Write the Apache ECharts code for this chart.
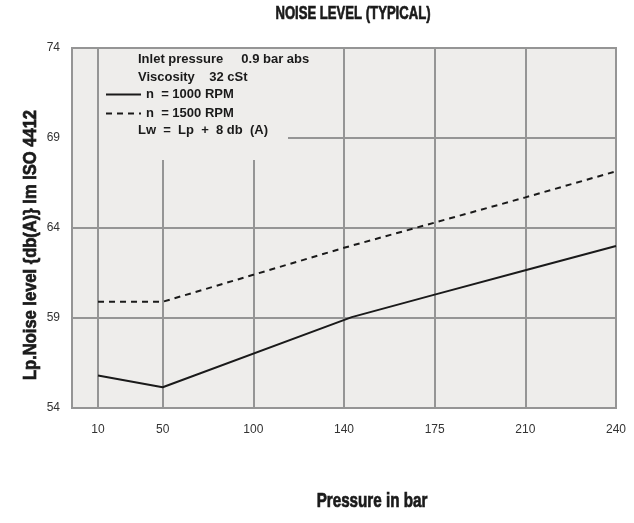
<!DOCTYPE html>
<html>
<head>
<meta charset="utf-8">
<script src="https://cdn.jsdelivr.net/npm/echarts@6/dist/echarts.min.js"></script>
<style>
  html, body { margin: 0; padding: 0; background: #fff; }
  #chart { width: 634px; height: 523px; }
</style>
</head>
<body>
<div id="chart"></div>
<script>
const pressureTicks = [10, 50, 100, 140, 175, 210, 240];
const dbTicks = [54, 59, 64, 69, 74];

const p1000 = [10, 50, 143, 175, 210, 240];
const db1000 = [55.8, 55.15, 59.05, 60.3, 61.65, 63.0];

const p1500 = [10, 50, 100, 140, 175, 210, 240];
const db1500 = [59.9, 59.9, 61.4, 62.9, 64.3, 65.7, 67.15];

const titleText = 'NOISE LEVEL (TYPICAL)';
const xName = 'Pressure in bar';
const yName = 'Lp.Noise level {db(A)} Im ISO 4412';
const noteLines = ['Inlet pressure     0.9 bar abs', 'Viscosity    32 cSt'];
const footNote = 'Lw  =  Lp  +  8 db  (A)';

// the x ticks are not spaced by value: 10 sits close to the left edge,
// every other tick is one slot further on
const tickSlots = [0.287, 1, 2, 3, 4, 5, 6];

function slotOf(p) {
  for (let i = 0; i < pressureTicks.length - 1; i++) {
    const a = pressureTicks[i], b = pressureTicks[i + 1];
    if (p >= a && p <= b) {
      return tickSlots[i] + (p - a) / (b - a) * (tickSlots[i + 1] - tickSlots[i]);
    }
  }
  return tickSlots[tickSlots.length - 1];
}

function pairs(ps, vs) {
  return ps.map((p, i) => [slotOf(p), vs[i]]);
}

const bg = '#eeedeb';
const gridCol = '#959595';
const ink = '#1a1a1a';
const plain = '"Liberation Sans", Arial, sans-serif';
const noteFont = 'bold 13px "Liberation Sans", Arial, sans-serif';
// the original uses a tall condensed face; squeeze a bold sans to get close
const headFont = 'bold 19px "Liberation Sans", Arial, sans-serif';
const heavy = { fill: ink, stroke: ink, lineWidth: 0.7, align: 'center', verticalAlign: 'middle' };

var myChart = echarts.init(document.getElementById('chart'));
const option = {
  animation: false,
  grid: {
    left: 72, right: 18, top: 48, bottom: 115,
    show: true,
    backgroundColor: bg,
    borderColor: gridCol,
    borderWidth: 2
  },
  legend: {
    orient: 'vertical',
    left: 100,
    top: 83,
    itemWidth: 35,
    itemHeight: 14,
    itemGap: 6,
    selectedMode: false,
    itemStyle: { opacity: 0 },
    textStyle: { fontFamily: plain, fontWeight: 'bold', fontSize: 13, color: ink },
    data: ['n  = 1000 RPM', 'n  = 1500 RPM']
  },
  xAxis: {
    type: 'value',
    min: 0,
    max: 6,
    axisLine: { show: false },
    axisTick: { show: false, customValues: tickSlots },
    axisLabel: {
      customValues: tickSlots,
      margin: 16,
      fontFamily: plain,
      fontSize: 12,
      color: '#333',
      formatter: function (v) {
        let best = 0;
        tickSlots.forEach((s, i) => { if (Math.abs(s - v) < Math.abs(tickSlots[best] - v)) best = i; });
        return String(pressureTicks[best]);
      }
    },
    splitLine: { show: true, lineStyle: { color: gridCol, width: 2 } }
  },
  yAxis: {
    type: 'value',
    min: 54,
    max: 74,
    axisLine: { show: false },
    axisTick: { show: false, customValues: dbTicks },
    axisLabel: {
      customValues: dbTicks,
      margin: 12,
      fontFamily: plain,
      fontSize: 12,
      color: '#333',
      padding: [0, 0, 5, 0]
    },
    splitLine: { show: true, lineStyle: { color: gridCol, width: 2 } }
  },
  graphic: [
    // legend box: it hides the grid lines behind the notes
    { type: 'rect', z: 1, shape: { x: 99, y: 49, width: 189, height: 111 }, style: { fill: bg } },
    { type: 'rect', z: 1, shape: { x: 73, y: 135, width: 24, height: 6 }, style: { fill: bg } },
    { type: 'text', z: 5, x: 138, y: 59, style: { text: noteLines[0], font: noteFont, fill: ink, verticalAlign: 'middle' } },
    { type: 'text', z: 5, x: 138, y: 77, style: { text: noteLines[1], font: noteFont, fill: ink, verticalAlign: 'middle' } },
    { type: 'text', z: 5, x: 138, y: 130, style: { text: footNote, font: noteFont, fill: ink, verticalAlign: 'middle' } },
    // title and axis names
    { type: 'text', z: 5, x: 353, y: 14, scaleX: 0.69,
      style: Object.assign({ text: titleText, font: headFont }, heavy) },
    { type: 'text', z: 5, x: 372, y: 501, scaleX: 0.76,
      style: Object.assign({ text: xName, font: 'bold 20px "Liberation Sans", Arial, sans-serif' }, heavy) },
    { type: 'text', z: 5, x: 31, y: 245, rotation: Math.PI / 2, scaleX: 0.87,
      style: Object.assign({ text: yName, font: headFont }, heavy) }
  ],
  series: [
    {
      name: 'n  = 1000 RPM',
      type: 'line',
      symbol: 'none',
      data: pairs(p1000, db1000),
      lineStyle: { color: ink, width: 2 },
      itemStyle: { color: ink }
    },
    {
      name: 'n  = 1500 RPM',
      type: 'line',
      symbol: 'none',
      data: pairs(p1500, db1500),
      lineStyle: { color: ink, width: 2, type: [6, 5] },
      itemStyle: { color: ink }
    }
  ]
};
myChart.setOption(option);
</script>
</body>
</html>
